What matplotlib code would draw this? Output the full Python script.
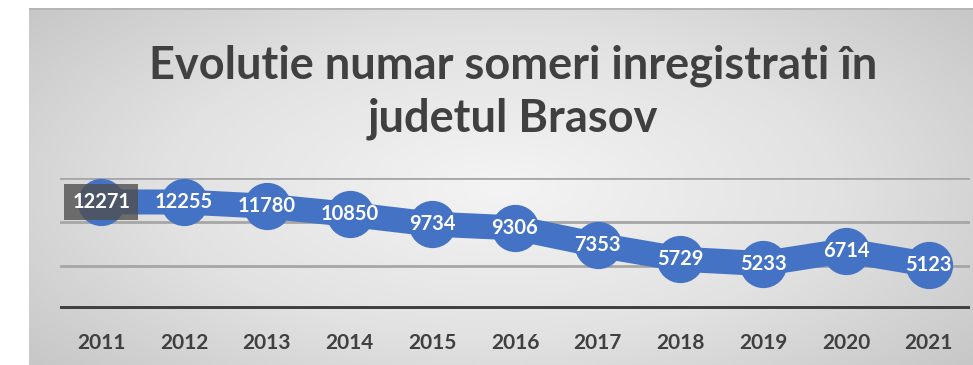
import numpy as np
import matplotlib.pyplot as plt
from matplotlib.colors import LinearSegmentedColormap

years = ['2011', '2012', '2013', '2014', '2015', '2016',
         '2017', '2018', '2019', '2020', '2021']
someri = [12271, 12255, 11780, 10850, 9734, 9306, 7353, 5729, 5233, 6714, 5123]

title = 'Evolutie numar someri inregistrati în\njudetul Brasov'
blue = '#4472C4'
dark = '#404040'

fig = plt.figure(figsize=(9.73, 3.65), dpi=100)

# grey radial background panel
bg = fig.add_axes([29 / 973, 0, 1 - 29 / 973, 1 - 8 / 365])
ny, nx = 200, 500
yy, xx = np.mgrid[-1:1:ny * 1j, -1:1:nx * 1j]
r = np.sqrt((xx / 1.05) ** 2 + (yy / 1.25) ** 2)
grey = LinearSegmentedColormap.from_list('g', ['#f4f4f4', '#e2e2e2', '#c2c2c2'])
bg.imshow(r, cmap=grey, aspect='auto', extent=[0, 1, 0, 1], vmin=0, vmax=1.35)
bg.set_xlim(0, 1)
bg.set_ylim(0, 1)
bg.axhline(1, color='#b4b4b4', lw=2)
bg.axis('off')

fig.text(0.527, 1 - 92 / 365, title, ha='center', va='center', fontsize=32.5,
         fontweight='bold', color=dark, family='Lato', linespacing=1.32)

ax = fig.add_axes([60 / 973, 1 - 309.4 / 365, 910 / 973, 131.4 / 365])
ax.patch.set_alpha(0)
x = np.arange(len(years))
ax.set_xlim(-0.5, len(years) - 0.5)
ax.set_ylim(0, 15000)
for g in (5000, 10000, 15000):
    ax.axhline(g, color='#a6a6a6', lw=2, zorder=1)
ax.axhline(0, color=dark, lw=5, zorder=1)

ax.plot(x, someri, color=blue, lw=18, solid_capstyle='butt', zorder=2, clip_on=False)
ax.plot(x, someri, 'o', color=blue, ms=33, zorder=3, clip_on=False)

for i, (xi, v) in enumerate(zip(x, someri)):
    box = dict(boxstyle='square,pad=0.4', fc='#505050', ec='none', alpha=0.8) if i == 0 else None
    ax.text(xi, v, str(v), ha='center', va='center', color='white', fontsize=14.5,
            fontweight='bold', family='Lato', bbox=box, zorder=4)

ax.set_xticks(x)
ax.set_xticklabels(years, fontsize=15, fontweight='bold', color=dark, family='Lato')
ax.tick_params(axis='x', length=0, pad=17)
ax.set_yticks([])
for s in ax.spines.values():
    s.set_visible(False)

fig.savefig('out.png', dpi=100)
